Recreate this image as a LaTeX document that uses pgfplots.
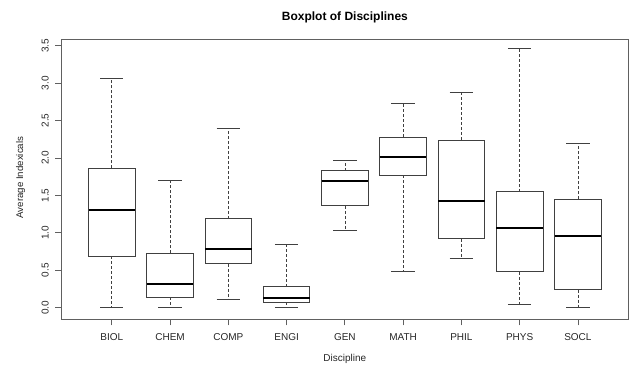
\documentclass[border=0pt]{standalone}
\usepackage{pgfplots}
\pgfplotsset{compat=1.18}
\usepgfplotslibrary{statistics}
\usepackage{fontspec}
\setmainfont{Liberation Sans}
\definecolor{boxc}{HTML}{404040}
\definecolor{framec}{HTML}{606060}
\begin{document}
\begin{tikzpicture}
\begin{axis}[
  name=ax,
  scale only axis,
  width=566.3pt, height=280pt,
  xmin=0.14, xmax=9.86,
  ymin=-0.151, ymax=3.589,
  axis line style={draw=framec, line width=0.8pt},
  xtick={1,2,3,4,5,6,7,8,9},
  xticklabels={BIOL,CHEM,COMP,ENGI,GEN,MATH,PHIL,PHYS,SOCL},
  ytick={0,0.5,1,1.5,2,2.5,3,3.5},
  yticklabels={0.0,0.5,1.0,1.5,2.0,2.5,3.0,3.5},
  xtick pos=bottom, ytick pos=left,
  tick align=outside,
  major tick length=6.5pt,
  tick style={draw=framec, line width=0.8pt},
  ticklabel style={font=\fontsize{10}{12}\selectfont, text=black!85},
  yticklabel style={xshift=-3pt, rotate=90, anchor=south},
  xticklabel style={yshift=-4.5pt},
  boxplot/draw direction=y,
  boxplot/box extend=0.8,
  boxplot/whisker extend=0.4,
  boxplot/every box/.style={draw=boxc, line width=0.8pt, fill=white},
  boxplot/every median/.style={draw=black, line width=2pt},
  boxplot/draw/lower whisker/.code={
    \draw[boxc, line width=0.7pt, dash pattern=on 3pt off 2pt]
      (boxplot box cs:\pgfplotsboxplotvalue{lower quartile},0.5) --
      (boxplot box cs:\pgfplotsboxplotvalue{lower whisker},0.5);
    \draw[boxc, line width=0.8pt]
      (boxplot whisker cs:\pgfplotsboxplotvalue{lower whisker},0) --
      (boxplot whisker cs:\pgfplotsboxplotvalue{lower whisker},1);
  },
  boxplot/draw/upper whisker/.code={
    \draw[boxc, line width=0.7pt, dash pattern=on 3pt off 2pt]
      (boxplot box cs:\pgfplotsboxplotvalue{upper quartile},0.5) --
      (boxplot box cs:\pgfplotsboxplotvalue{upper whisker},0.5);
    \draw[boxc, line width=0.8pt]
      (boxplot whisker cs:\pgfplotsboxplotvalue{upper whisker},0) --
      (boxplot whisker cs:\pgfplotsboxplotvalue{upper whisker},1);
  },
]
% BIOL
\addplot[boxplot prepared={draw position=1, lower whisker=0.01, lower quartile=0.69, median=1.31, upper quartile=1.86, upper whisker=3.06}] coordinates {};
% CHEM
\addplot[boxplot prepared={draw position=2, lower whisker=0.0, lower quartile=0.14, median=0.32, upper quartile=0.73, upper whisker=1.70}] coordinates {};
% COMP
\addplot[boxplot prepared={draw position=3, lower whisker=0.11, lower quartile=0.59, median=0.79, upper quartile=1.19, upper whisker=2.39}] coordinates {};
% ENGI
\addplot[boxplot prepared={draw position=4, lower whisker=0.0, lower quartile=0.07, median=0.13, upper quartile=0.28, upper whisker=0.85}] coordinates {};
% GEN
\addplot[boxplot prepared={draw position=5, lower whisker=1.03, lower quartile=1.36, median=1.69, upper quartile=1.83, upper whisker=1.97}] coordinates {};
% MATH
\addplot[boxplot prepared={draw position=6, lower whisker=0.48, lower quartile=1.77, median=2.01, upper quartile=2.28, upper whisker=2.73}] coordinates {};
% PHIL
\addplot[boxplot prepared={draw position=7, lower whisker=0.66, lower quartile=0.92, median=1.43, upper quartile=2.24, upper whisker=2.88}] coordinates {};
% PHYS
\addplot[boxplot prepared={draw position=8, lower whisker=0.04, lower quartile=0.48, median=1.07, upper quartile=1.55, upper whisker=3.46}] coordinates {};
% SOCL
\addplot[boxplot prepared={draw position=9, lower whisker=0.01, lower quartile=0.24, median=0.96, upper quartile=1.45, upper whisker=2.20}] coordinates {};
\end{axis}
\node[font=\bfseries\fontsize{12}{14}\selectfont] at ([yshift=22pt]ax.north) {Boxplot of Disciplines};
\node[font=\fontsize{10}{12}\selectfont, text=black!85] at ([yshift=-40pt]ax.south) {Discipline};
\node[font=\fontsize{9.7}{12}\selectfont, text=black!85, rotate=90] at ([xshift=-41pt,yshift=1.5pt]ax.west) {Average Indexicals};
\pgfresetboundingbox
\path ([xshift=-61.7pt,yshift=-46pt]ax.south west) rectangle ([xshift=2pt,yshift=39pt]ax.north east);
\end{tikzpicture}
\end{document}
